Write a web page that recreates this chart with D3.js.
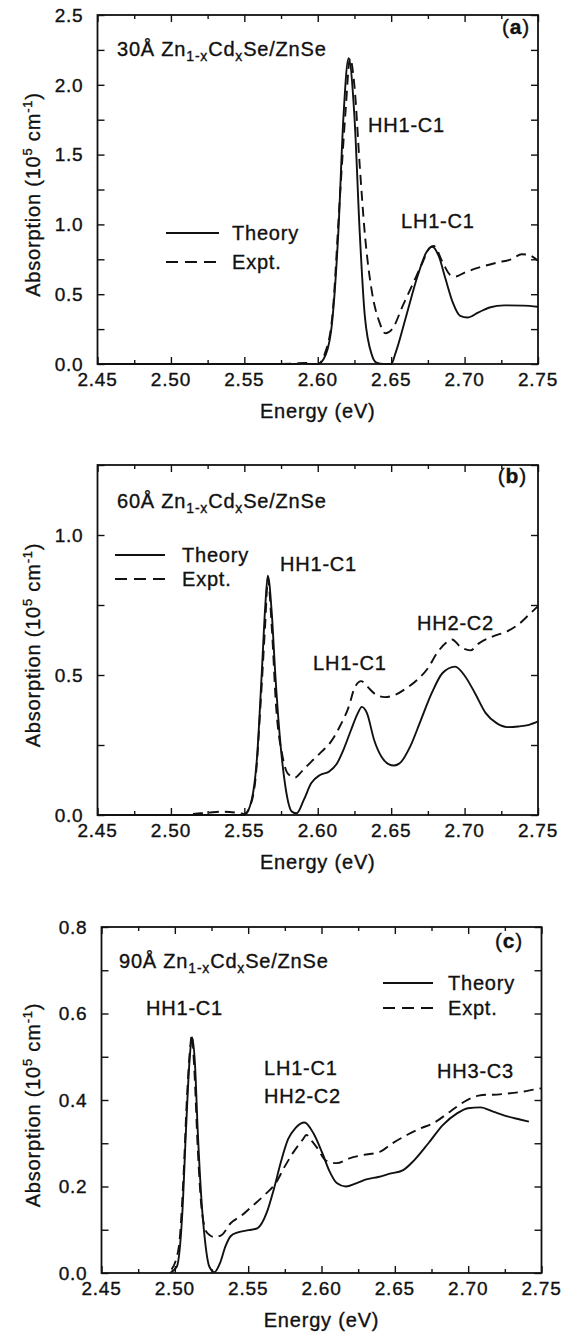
<!DOCTYPE html>
<html lang="en">
<head>
<meta charset="utf-8">
<title>Absorption spectra Zn1-xCdxSe/ZnSe</title>
<script src="https://cdn.jsdelivr.net/npm/d3@7"></script>
<style>
body { margin: 0; background: #fff; }
text {
  font-family: "Liberation Sans", Arial, Helvetica, sans-serif;
  fill: #111;
  stroke: #111;
  stroke-width: 0.35px;
  letter-spacing: 0.8px;
}
.frame { fill: none; stroke: #111; stroke-width: 1.8px; }
.tick line { stroke: #111; stroke-width: 1.4px; }
.theory { fill: none; stroke: #111; stroke-width: 1.9px; }
.expt { fill: none; stroke: #111; stroke-width: 1.9px; stroke-dasharray: 10,6; }
</style>
</head>
<body>
<script>
// energy axis (eV), same for all three panels
var energyTicks = [2.45, 2.50, 2.55, 2.60, 2.65, 2.70, 2.75];

// absorption tick labels (10^5 cm^-1)
var yTicksA = [0, 0.5, 1.0, 1.5, 2.0, 2.5];
var yTicksB = [0, 0.5, 1.0];
var yTicksC = [0, 0.2, 0.4, 0.6, 0.8];

// (a) 30 A well : [energy, absorption]
var theoryA = [[2.450,0],[2.585,0],[2.590,0.006],[2.595,0],[2.600,0],[2.604,0.035],[2.609,0.23],
  [2.614,0.94],[2.6175,1.77],[2.621,2.19],[2.625,1.77],[2.6286,0.94],[2.632,0.35],[2.637,0.06],
  [2.640,0.01],[2.645,0],[2.650,0],[2.653,0.08],[2.6604,0.35],[2.668,0.63],[2.674,0.80],[2.678,0.84],
  [2.6825,0.77],[2.687,0.61],[2.692,0.44],[2.697,0.345],[2.702,0.333],[2.7095,0.37],[2.717,0.405],
  [2.727,0.42],[2.740,0.418],[2.750,0.41]];
var exptA = [[2.575,0],[2.588,0.005],[2.592,0.008],[2.598,0],[2.600,0],[2.605,0.08],[2.610,0.35],
  [2.615,1.18],[2.619,1.82],[2.622,2.19],[2.625,1.99],[2.6286,1.42],[2.632,0.94],[2.637,0.51],
  [2.642,0.30],[2.646,0.22],[2.6507,0.25],[2.658,0.42],[2.665,0.58],[2.6715,0.73],[2.676,0.83],
  [2.679,0.845],[2.685,0.73],[2.690,0.64],[2.6936,0.626],[2.700,0.655],[2.7095,0.69],[2.722,0.726],
  [2.7316,0.75],[2.739,0.786],[2.744,0.78],[2.750,0.74]];

// (b) 60 A well
var theoryB = [[2.450,0],[2.550,0],[2.555,0.054],[2.5587,0.21],[2.5619,0.51],[2.5643,0.75],[2.566,0.855],
  [2.5687,0.72],[2.571,0.51],[2.574,0.29],[2.578,0.10],[2.5824,0.012],[2.5856,0.006],[2.5905,0.054],
  [2.5955,0.113],[2.6016,0.143],[2.6077,0.155],[2.6126,0.18],[2.6175,0.233],[2.6224,0.30],[2.6273,0.364],
  [2.630,0.386],[2.6335,0.364],[2.6384,0.268],[2.6433,0.209],[2.6482,0.182],[2.652,0.177],[2.6568,0.19],
  [2.663,0.245],[2.6703,0.34],[2.6776,0.435],[2.685,0.507],[2.6936,0.53],[2.6997,0.50],[2.707,0.436],
  [2.7144,0.364],[2.7218,0.328],[2.729,0.314],[2.7365,0.316],[2.744,0.322],[2.750,0.334]];
var exptB = [[2.515,0.004],[2.525,0.008],[2.535,0.012],[2.545,0.008],[2.550,0.004],[2.5538,0.03],
  [2.558,0.15],[2.561,0.39],[2.5643,0.69],[2.566,0.845],[2.5687,0.67],[2.5716,0.39],[2.576,0.21],
  [2.5795,0.149],[2.5845,0.134],[2.589,0.155],[2.5955,0.19],[2.6028,0.227],[2.609,0.262],[2.615,0.316],
  [2.6212,0.388],[2.625,0.453],[2.6296,0.478],[2.6335,0.46],[2.6396,0.43],[2.6457,0.421],[2.653,0.43],
  [2.6604,0.453],[2.6678,0.483],[2.6751,0.525],[2.6813,0.579],[2.6874,0.615],[2.6914,0.627],
  [2.6973,0.60],[2.704,0.588],[2.7095,0.612],[2.7193,0.638],[2.729,0.656],[2.7365,0.68],[2.744,0.716],
  [2.750,0.746]];

// (c) 90 A well
var theoryC = [[2.4965,0],[2.5014,0.015],[2.5051,0.138],[2.5076,0.33],[2.510,0.49],[2.5117,0.545],
  [2.5137,0.485],[2.5156,0.33],[2.518,0.177],[2.5205,0.077],[2.5235,0.015],[2.527,0.002],[2.5308,0.023],
  [2.5345,0.0615],[2.538,0.085],[2.543,0.094],[2.5504,0.099],[2.5565,0.104],[2.5627,0.14],[2.5676,0.195],
  [2.5724,0.258],[2.5773,0.31],[2.5822,0.335],[2.5884,0.348],[2.5945,0.323],[2.6006,0.277],[2.6055,0.235],
  [2.6104,0.208],[2.6165,0.2],[2.624,0.208],[2.6312,0.217],[2.6386,0.222],[2.646,0.229],[2.6557,0.238],
  [2.663,0.26],[2.6729,0.3],[2.6827,0.342],[2.6924,0.369],[2.6998,0.381],[2.7084,0.383],[2.717,0.373],
  [2.7267,0.362],[2.7353,0.355],[2.7414,0.35]];
var exptC = [[2.4978,0.008],[2.5027,0.06],[2.5058,0.215],[2.5083,0.408],[2.5107,0.53],[2.5115,0.55],
  [2.5132,0.477],[2.5156,0.29],[2.5186,0.138],[2.5222,0.092],[2.5271,0.083],[2.532,0.088],[2.538,0.115],
  [2.5455,0.133],[2.5529,0.155],[2.5614,0.181],[2.5688,0.208],[2.5749,0.246],[2.581,0.28],[2.5871,0.308],
  [2.5897,0.319],[2.5935,0.305],[2.5969,0.29],[2.603,0.26],[2.6104,0.254],[2.619,0.265],[2.6288,0.273],
  [2.6397,0.28],[2.6484,0.3],[2.6582,0.319],[2.668,0.335],[2.676,0.346],[2.6876,0.373],[2.6973,0.396],
  [2.7071,0.41],[2.7124,0.412],[2.717,0.412],[2.7267,0.415],[2.7365,0.419],[2.7463,0.425],[2.750,0.427]];

var W = 564, H = 1332;

var svg = d3.select("body").append("svg")
  .attr("width", W)
  .attr("height", H)
  .style("background-color", "#fff");

var panels = [
  { tag: "a", well: "30Å", left: 97.5, right: 538, top: 15, bottom: 364, ymax: 2.5, ystep: 0.25,
    yTicks: yTicksA, theory: theoryA, expt: exptA,
    sample: [117, 56], tagPos: [530, 34],
    legend: { x1: 166, x2: 219, y: 233, dy: 29, tx: 232 },
    notes: [["HH1-C1", 368, 132], ["LH1-C1", 401, 228]] },
  { tag: "b", well: "60Å", left: 97.5, right: 538, top: 465, bottom: 815, ymax: 1.25, ystep: 0.25,
    yTicks: yTicksB, theory: theoryB, expt: exptB,
    sample: [117, 508], tagPos: [527, 483],
    legend: { x1: 115, x2: 165, y: 555, dy: 24, tx: 182 },
    notes: [["HH1-C1", 280, 571], ["LH1-C1", 313, 670], ["HH2-C2", 417, 630]] },
  { tag: "c", well: "90Å", left: 101.5, right: 541.5, top: 927, bottom: 1273, ymax: 0.8, ystep: 0.1,
    yTicks: yTicksC, theory: theoryC, expt: exptC,
    sample: [119, 968], tagPos: [523, 948],
    legend: { x1: 383, x2: 433, y: 983, dy: 25, tx: 448 },
    notes: [["HH1-C1", 146, 1015], ["LH1-C1", 264, 1075], ["HH2-C2", 264, 1103], ["HH3-C3", 437, 1078]] }
];

panels.forEach(drawPanel);

function drawPanel(p) {
  var x = d3.scaleLinear().domain([2.45, 2.75]).range([p.left, p.right]);
  var y = d3.scaleLinear().domain([0, p.ymax]).range([p.bottom, p.top]);
  var g = svg.append("g");

  var xMinor = energyTicks.slice(1).map(function(d, i) { return (d + energyTicks[i]) / 2; });
  var yMinor = d3.range(0, p.ymax + 1e-6, p.ystep);

  // inward ticks on all four sides
  function ticks(axis, tr) {
    var a = g.append("g").attr("transform", tr).call(axis);
    a.select(".domain").remove();
    a.selectAll("text").remove();
  }
  ticks(d3.axisBottom(x).tickValues(energyTicks).tickSize(-7), "translate(0," + p.bottom + ")");
  ticks(d3.axisBottom(x).tickValues(xMinor).tickSize(-4), "translate(0," + p.bottom + ")");
  ticks(d3.axisTop(x).tickValues(energyTicks).tickSize(-7), "translate(0," + p.top + ")");
  ticks(d3.axisTop(x).tickValues(xMinor).tickSize(-4), "translate(0," + p.top + ")");
  ticks(d3.axisLeft(y).tickValues(yMinor).tickSize(-7), "translate(" + p.left + ",0)");
  ticks(d3.axisRight(y).tickValues(yMinor).tickSize(-7), "translate(" + p.right + ",0)");

  g.append("rect").attr("class", "frame")
    .attr("x", p.left).attr("y", p.top)
    .attr("width", p.right - p.left).attr("height", p.bottom - p.top);

  // tick labels
  g.selectAll(".xl").data(energyTicks).enter().append("text")
    .attr("x", function(d) { return x(d); })
    .attr("y", p.bottom + 22)
    .attr("text-anchor", "middle")
    .style("font-size", "19px")
    .text(function(d) { return d.toFixed(2); });

  g.selectAll(".yl").data(p.yTicks).enter().append("text")
    .attr("x", p.left - 14)
    .attr("y", function(d) { return y(d); })
    .attr("dy", "0.36em")
    .attr("text-anchor", "end")
    .style("font-size", "19px")
    .text(function(d) { return d.toFixed(1); });

  g.append("text")
    .attr("x", (p.left + p.right) / 2)
    .attr("y", p.bottom + 54)
    .attr("text-anchor", "middle")
    .style("font-size", "20px")
    .text("Energy (eV)");

  var yt = g.append("text")
    .attr("transform", "translate(40," + ((p.top + p.bottom) / 2 + 5) + ") rotate(-90)")
    .attr("text-anchor", "middle")
    .style("font-size", "20px");
  yt.append("tspan").text("Absorption (10");
  yt.append("tspan").attr("dy", -8).style("font-size", "13px").text("5");
  yt.append("tspan").attr("dy", 8).text(" cm");
  yt.append("tspan").attr("dy", -8).style("font-size", "13px").text("-1");
  yt.append("tspan").attr("dy", 8).text(")");

  // curves
  var line = d3.line()
    .x(function(d) { return x(d[0]); })
    .y(function(d) { return y(d[1]); })
    .curve(d3.curveMonotoneX);

  g.append("path").attr("class", "theory").attr("d", line(p.theory));
  g.append("path").attr("class", "expt").attr("d", line(p.expt));

  // sample name
  var s = g.append("text")
    .attr("x", p.sample[0]).attr("y", p.sample[1])
    .style("font-size", "20px");
  s.append("tspan").text(p.well + " Zn");
  s.append("tspan").attr("dy", 5).style("font-size", "14px").text("1-x");
  s.append("tspan").attr("dy", -5).text("Cd");
  s.append("tspan").attr("dy", 5).style("font-size", "14px").text("x");
  s.append("tspan").attr("dy", -5).text("Se/ZnSe");

  // panel tag
  var t = g.append("text")
    .attr("x", p.tagPos[0]).attr("y", p.tagPos[1])
    .attr("text-anchor", "end")
    .style("font-size", "21px");
  t.append("tspan").text("(");
  t.append("tspan").style("font-weight", "bold").text(p.tag);
  t.append("tspan").text(")");

  // legend
  var L = p.legend;
  g.append("line").attr("class", "theory")
    .attr("x1", L.x1).attr("x2", L.x2).attr("y1", L.y).attr("y2", L.y);
  g.append("line").attr("class", "expt")
    .style("stroke-dasharray", "12,7")
    .attr("x1", L.x1).attr("x2", L.x2).attr("y1", L.y + L.dy).attr("y2", L.y + L.dy);
  g.append("text").attr("x", L.tx).attr("y", L.y + 7).style("font-size", "20px").text("Theory");
  g.append("text").attr("x", L.tx).attr("y", L.y + L.dy + 7).style("font-size", "20px").text("Expt.");

  // transition labels
  g.selectAll(".note").data(p.notes).enter().append("text")
    .attr("x", function(d) { return d[1]; })
    .attr("y", function(d) { return d[2]; })
    .style("font-size", "20px")
    .text(function(d) { return d[0]; });
}
</script>
</body>
</html>
